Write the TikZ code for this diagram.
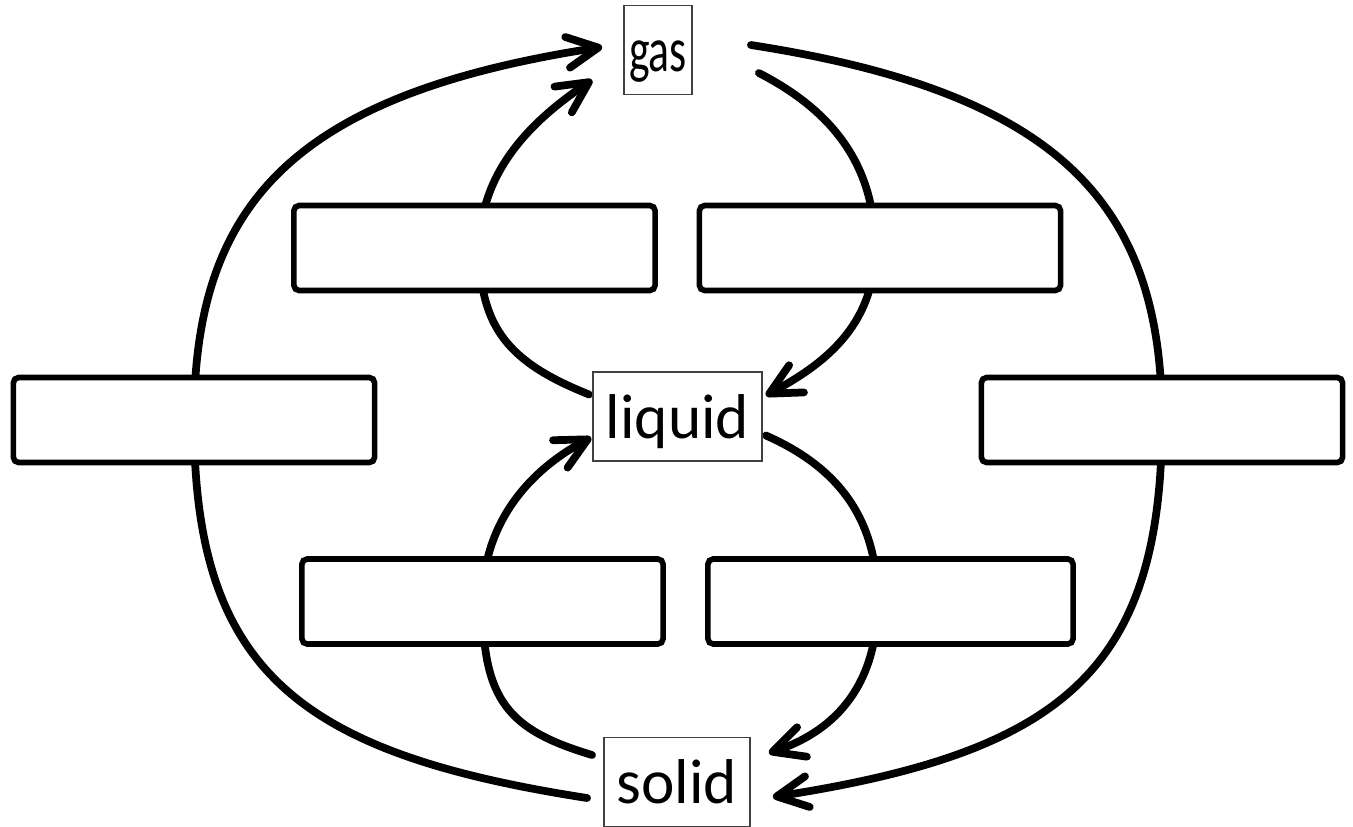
\documentclass[tikz,border=0pt]{standalone}
\usepackage{fontspec}
\setmainfont{Carlito}
\usetikzlibrary{arrows.meta,backgrounds}

\begin{document}
\begin{tikzpicture}[
    x=0.01cm, y=-0.01cm,
    font=\fontsize{18}{21}\selectfont,
    state/.style={draw=black!75,line width=0.5pt,fill=white,inner sep=0pt,
      minimum height=0.89cm,text height=0.55cm,text depth=0.12cm},
    blank/.style={draw,line width=1.6pt,rounded corners=1.5pt,fill=white,
      minimum width=3.61cm,minimum height=0.85cm,inner sep=0pt},
    plain/.style={line width=2.2pt,line cap=round},
    change/.style={plain,-{Straight Barb[length=3.1mm,width=3.1mm,round]}}
  ]
  \useasboundingbox (0,0) rectangle (1353,826);
  % states of matter
  \node[state,minimum width=0.68cm] (gas) at (658,50) {\scalebox{0.69}[1]{gas}};
  \node[state,minimum width=1.69cm] (liquid) at (677.5,416.5) {liquid};
  \node[state,minimum width=1.46cm] (solid) at (677,782) {solid};
  % empty answer boxes
  \node[blank] (ulbox) at (474.5,248) {};
  \node[blank] (urbox) at (880,248) {};
  \node[blank] (lbox) at (194,420) {};
  \node[blank] (rbox) at (1162,420) {};
  \node[blank] (llbox) at (482.5,601.5) {};
  \node[blank,minimum width=3.65cm] (lrbox) at (890.5,601.5) {};
  % changes of state
  \begin{scope}[on background layer]
    \draw[change] ([shift={(-16,16)}]solid.west) .. controls +(-290,-45) and +(0,250) .. (lbox.center)
      .. controls +(0,-215) and +(-310,48) .. ([shift={(-21,-3)}]gas.west);
    \draw[change] ([shift={(58,-5)}]gas.east) .. controls +(310,48) and +(0,-215) .. (rbox.center)
      .. controls +(0,250) and +(290,-45) .. ([shift={(22,15)}]solid.east);
    \draw[change] ([shift={(-3,-22)}]liquid.west) .. controls +(-80,-32) and +(0,80) .. ([shift={(5,0)}]ulbox.center)
      .. controls +(0,-80) and +(-55,37) .. ([shift={(-31,30)}]gas.west);
    \draw[change] ([shift={(66,23)}]gas.east) .. controls +(68,35) and +(0,-88) .. ([shift={(-5,0)}]urbox.center)
      .. controls +(0,80) and +(55,-30) .. ([shift={(3,-21)}]liquid.east);
    \draw[change] ([shift={(-11,-27)}]solid.west) .. controls +(-83,-25) and +(0,100) .. (llbox.center)
      .. controls +(0,-80) and +(-60,32) .. ([shift={(-1,21)}]liquid.west);
    \draw[change] ([shift={(3,19)}]liquid.east) .. controls +(75,33) and +(0,-80) .. ([shift={(-13,0)}]lrbox.center)
      .. controls +(0,90) and +(60,-20) .. ([shift={(18,-29)}]solid.east);
  \end{scope}
\end{tikzpicture}
\end{document}
